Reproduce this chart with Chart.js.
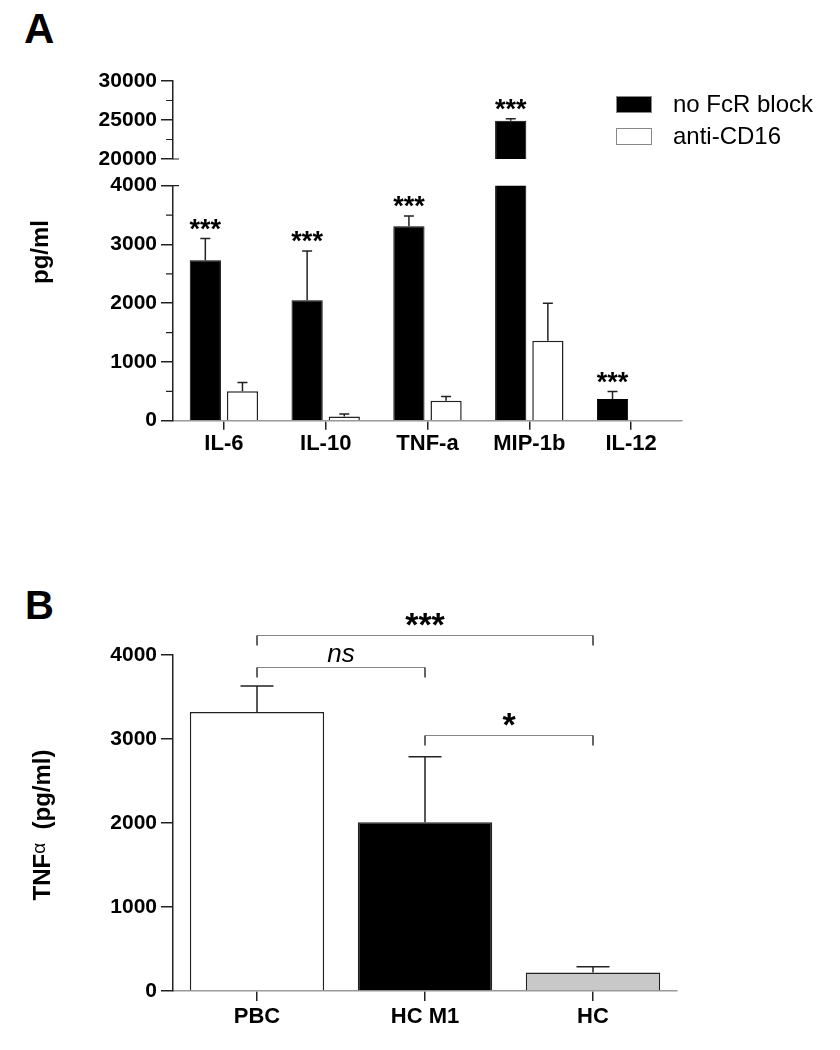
<!DOCTYPE html>
<html>
<head>
<meta charset="utf-8">
<title>Cytokine release with and without FcR block</title>
<script src="https://cdn.jsdelivr.net/npm/chart.js@4.4.0/dist/chart.umd.min.js"></script>
<style>
  body { margin: 0; background: #fff; width: 840px; height: 1050px; position: relative; overflow: hidden;
         font-family: "Liberation Sans", Arial, Helvetica, sans-serif; }
  .letter { position: absolute; font-weight: bold; line-height: 1; color: #000; }
  canvas { position: absolute; left: 0; }
</style>
</head>
<body>
<div class="letter" style="left:24px; top:8px; font-size:42px">A</div>
<div class="letter" style="left:25px; top:585px; font-size:40px">B</div>
<canvas id="aTop" width="840" height="117" style="top:60px"></canvas>
<canvas id="aLow" width="840" height="320" style="top:160px"></canvas>
<canvas id="bChart" width="840" height="470" style="top:580px"></canvas>
<script>
// panel A data
const cytokines = ["IL-6", "IL-10", "TNF-a", "MIP-1b", "IL-12"];
const noBlockMean = [2730, 2050, 3310, 24900, 370];
const noBlockErr = [370, 840, 175, 270, 125];
const antiCD16Mean = [500, 70, 340, 1360, 0];
const antiCD16Err = [150, 45, 70, 640, 0];
const noBlockSig = ["***", "***", "***", "***", "***"];
const lowerTicks = [0, 1000, 2000, 3000, 4000];
const upperTicks = [20000, 25000, 30000];

// panel B data
const groupsB = ["PBC", "HC M1", "HC"];
const tnfMean = [3320, 2010, 220];
const tnfErr = [310, 780, 70];
const tnfTicks = [0, 1000, 2000, 3000, 4000];
const comparisons = [
  { from: 0, to: 2, level: 4240, label: "***" },
  { from: 0, to: 1, level: 3860, label: "ns" },
  { from: 1, to: 2, level: 3050, label: "*" }
];

const FONT = '"Liberation Sans", Arial, Helvetica, sans-serif';
Chart.defaults.font.family = FONT;
Chart.defaults.color = "#000";

// vertical error bars (upper side only)
const errorBars = {
  id: "errorBars",
  afterDatasetsDraw(chart, args, opts) {
    const { ctx, chartArea, scales: { y } } = chart;
    ctx.save();
    ctx.beginPath();
    ctx.rect(chartArea.left, chartArea.top - 2, chartArea.width, chartArea.height + 4);
    ctx.clip();
    ctx.strokeStyle = "#222";
    ctx.lineWidth = 1.5;
    chart.data.datasets.forEach((ds, di) => {
      if (!ds.errors) return;
      chart.getDatasetMeta(di).data.forEach((bar, i) => {
        const err = ds.errors[i];
        if (!err) return;
        const y0 = y.getPixelForValue(ds.data[i]);
        const y1 = y.getPixelForValue(ds.data[i] + err);
        const half = opts.capWidth / 2;
        ctx.beginPath();
        ctx.moveTo(bar.x, y0);
        ctx.lineTo(bar.x, y1);
        ctx.moveTo(bar.x - half, y1);
        ctx.lineTo(bar.x + half, y1);
        ctx.stroke();
      });
    });
    ctx.restore();
  }
};

// *** above the no-block bars, only when they fall in this chart's range
const sigMarks = {
  id: "sigMarks",
  afterDatasetsDraw(chart) {
    const { ctx, scales: { y } } = chart;
    const ds = chart.data.datasets[0];
    ctx.save();
    ctx.font = "bold 27px " + FONT;
    ctx.textAlign = "center";
    ctx.textBaseline = "alphabetic";
    ctx.fillStyle = "#000";
    chart.getDatasetMeta(0).data.forEach((bar, i) => {
      const top = ds.data[i] + (ds.errors[i] || 0);
      if (top < y.min || top > y.max) return;
      ctx.fillText(noBlockSig[i], bar.x, y.getPixelForValue(top) - 1);
    });
    ctx.restore();
  }
};

// minor ticks and the axis-break marks
const minorTicks = {
  id: "minorTicks",
  afterDraw(chart, args, opts) {
    const { ctx, chartArea, scales: { y } } = chart;
    ctx.save();
    ctx.strokeStyle = "#222";
    ctx.lineWidth = 1.2;
    ctx.beginPath();
    for (let v = y.min + opts.step / 2; v < y.max; v += opts.step) {
      const py = y.getPixelForValue(v);
      ctx.moveTo(chartArea.left - 7, py);
      ctx.lineTo(chartArea.left, py);
    }
    const by = opts.breakAt === "top" ? chartArea.top : chartArea.bottom;
    ctx.moveTo(chartArea.left, by);
    ctx.lineTo(chartArea.left + 6, by);
    ctx.stroke();
    ctx.restore();
  }
};

// legend drawn as boxes inside the plot
const boxLegend = {
  id: "boxLegend",
  afterDraw(chart, args, opts) {
    const { ctx } = chart;
    ctx.save();
    chart.data.datasets.forEach((ds, i) => {
      const y = opts.y + i * opts.rowGap;
      ctx.fillStyle = ds.backgroundColor;
      ctx.fillRect(opts.x, y, 36, 17);
      ctx.strokeStyle = "#888";
      ctx.lineWidth = 1;
      ctx.strokeRect(opts.x + 0.5, y + 0.5, 35, 16);
      ctx.fillStyle = "#000";
      ctx.font = "24px " + FONT;
      ctx.textBaseline = "middle";
      ctx.fillText(ds.label, opts.x + 57, y + 9);
    });
    ctx.restore();
  }
};

// rotated y title, built from parts so the alpha can be smaller
const yTitle = {
  id: "yTitle",
  afterDraw(chart, args, opts) {
    const { ctx } = chart;
    ctx.save();
    ctx.translate(opts.x, opts.y);
    ctx.rotate(-Math.PI / 2);
    ctx.textBaseline = "middle";
    ctx.fillStyle = "#000";
    let total = 0;
    opts.parts.forEach(p => { ctx.font = p.font; total += ctx.measureText(p.text).width; });
    let x = -total / 2;
    opts.parts.forEach(p => {
      ctx.font = p.font;
      ctx.fillText(p.text, x, p.dy || 0);
      x += ctx.measureText(p.text).width;
    });
    ctx.restore();
  }
};

// significance brackets for panel B
const brackets = {
  id: "brackets",
  afterDraw(chart) {
    const { ctx, scales: { x, y } } = chart;
    ctx.save();
    comparisons.forEach(c => {
      const x1 = x.getPixelForValue(c.from);
      const x2 = x.getPixelForValue(c.to);
      const yy = Math.round(y.getPixelForValue(c.level)) + 0.5;
      ctx.strokeStyle = "#888";
      ctx.lineWidth = 1.2;
      ctx.beginPath();
      ctx.moveTo(x1, yy);
      ctx.lineTo(x2, yy);
      ctx.stroke();
      ctx.strokeStyle = "#333";
      ctx.lineWidth = 1.5;
      ctx.beginPath();
      ctx.moveTo(x1, yy);
      ctx.lineTo(x1, yy + 10);
      ctx.moveTo(x2, yy);
      ctx.lineTo(x2, yy + 10);
      ctx.stroke();
      ctx.fillStyle = "#000";
      ctx.textAlign = "center";
      ctx.textBaseline = "alphabetic";
      if (c.label === "ns") {
        ctx.font = "italic 26px " + FONT;
        ctx.fillText(c.label, (x1 + x2) / 2, yy - 6);
      } else {
        ctx.font = "bold 34px " + FONT;
        ctx.fillText(c.label, (x1 + x2) / 2, yy);
      }
    });
    ctx.restore();
  }
};

function cytokineDatasets() {
  return [
    {
      label: "no FcR block",
      data: noBlockMean,
      errors: noBlockErr,
      backgroundColor: "#000",
      borderColor: "#000",
      borderWidth: 1,
      categoryPercentage: 0.73,
      barPercentage: 0.84
    },
    {
      label: "anti-CD16",
      data: antiCD16Mean,
      errors: antiCD16Err,
      backgroundColor: "#fff",
      borderColor: "#222",
      borderWidth: 1.5,
      categoryPercentage: 0.73,
      barPercentage: 0.84
    }
  ];
}

function yAxis(min, max, ticks) {
  return {
    min: min,
    max: max,
    afterFit: s => { s.width = 173; },
    afterBuildTicks: s => { s.ticks = ticks.map(v => ({ value: v })); },
    ticks: {
      font: { size: 21, weight: "bold" },
      color: "#000",
      padding: 4,
      callback: v => String(v)
    },
    grid: { drawOnChartArea: false, tickLength: 12, color: "#222", lineWidth: 1.5 },
    border: { color: "#222", width: 1.5 }
  };
}

new Chart(document.getElementById("aTop"), {
  type: "bar",
  data: { labels: cytokines, datasets: cytokineDatasets() },
  options: {
    responsive: false,
    animation: false,
    layout: { autoPadding: false, padding: { top: 21, bottom: 18, left: 0, right: 158 } },
    plugins: {
      legend: { display: false },
      tooltip: { enabled: false },
      errorBars: { capWidth: 10 },
      minorTicks: { step: 5000, breakAt: "bottom" },
      boxLegend: { x: 616, y: 36, rowGap: 32 }
    },
    scales: {
      x: { display: false },
      y: yAxis(20000, 30000, upperTicks)
    }
  },
  plugins: [errorBars, sigMarks, minorTicks, boxLegend]
});

new Chart(document.getElementById("aLow"), {
  type: "bar",
  data: { labels: cytokines, datasets: cytokineDatasets() },
  options: {
    responsive: false,
    animation: false,
    layout: { autoPadding: false, padding: { top: 25.7, bottom: 0, left: 0, right: 158 } },
    plugins: {
      legend: { display: false },
      tooltip: { enabled: false },
      errorBars: { capWidth: 10 },
      minorTicks: { step: 1000, breakAt: "top" },
      yTitle: { x: 41, y: 92, parts: [{ text: "pg/ml", font: "bold 24px " + FONT }] }
    },
    scales: {
      x: {
        afterFit: s => { s.height = 59.3; },
        ticks: { font: { size: 22, weight: "bold" }, color: "#000", padding: 1 },
        grid: { drawOnChartArea: false, offset: false, tickLength: 9, color: "#222", lineWidth: 1.5 },
        border: { color: "#999", width: 1.5 }
      },
      y: yAxis(0, 4000, lowerTicks)
    }
  },
  plugins: [errorBars, sigMarks, minorTicks, yTitle]
});

new Chart(document.getElementById("bChart"), {
  type: "bar",
  data: {
    labels: groupsB,
    datasets: [{
      label: "TNFα",
      data: tnfMean,
      errors: tnfErr,
      backgroundColor: ["#fff", "#000", "#c8c8c8"],
      borderColor: "#222",
      borderWidth: 1.5,
      categoryPercentage: 0.8,
      barPercentage: 1.0
    }]
  },
  options: {
    responsive: false,
    animation: false,
    layout: { autoPadding: false, padding: { top: 75, bottom: 0, left: 0, right: 163 } },
    plugins: {
      legend: { display: false },
      tooltip: { enabled: false },
      errorBars: { capWidth: 33 },
      yTitle: {
        x: 43, y: 245,
        parts: [
          { text: "TNF", font: "bold 24px " + FONT },
          { text: "α", font: "19px " + FONT, dy: -3 },
          { text: "  (pg/ml)", font: "bold 24px " + FONT }
        ]
      }
    },
    scales: {
      x: {
        afterFit: s => { s.height = 59; },
        ticks: { font: { size: 22, weight: "bold" }, color: "#000", padding: 3 },
        grid: { drawOnChartArea: false, offset: false, tickLength: 10, color: "#222", lineWidth: 1.5 },
        border: { color: "#999", width: 1.5 }
      },
      y: yAxis(0, 4000, tnfTicks)
    }
  },
  plugins: [errorBars, yTitle, brackets]
});
</script>
</body>
</html>
